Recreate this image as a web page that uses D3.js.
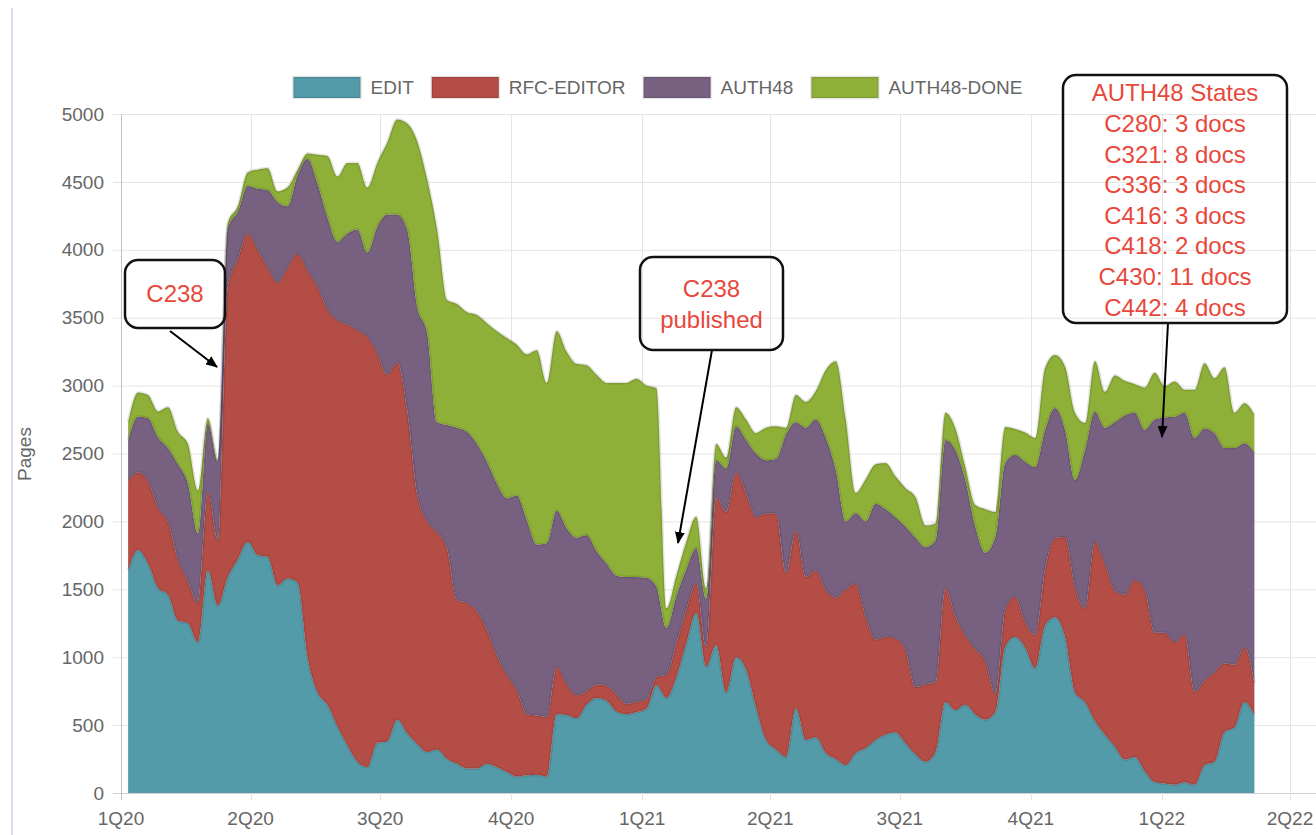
<!DOCTYPE html>
<html>
<head>
<meta charset="utf-8">
<script src="https://cdn.jsdelivr.net/npm/d3@7"></script>
<style>
  body { margin: 0; background: #fff; }
  svg { display: block; font-family: "Liberation Sans", Arial, Helvetica, sans-serif; }
</style>
</head>
<body>
<svg id="chart" width="1316" height="835"></svg>
<script>
// pages in each state, one value per week (Mondays from 6 Jan 2020)
const seriesNames = ['EDIT', 'RFC-EDITOR', 'AUTH48', 'AUTH48-DONE']
const seriesColors = ['#549baa', '#b44d46', '#786180', '#8eb038']

const edit = [1640,1790,1690,1510,1460,1270,1250,1110,1640,1380,
  1590,1720,1850,1750,1740,1530,1580,1550,1000,740,
  650,490,350,230,190,370,380,540,440,360,
  300,320,250,215,180,180,215,190,155,120,
  130,135,120,580,575,550,650,700,680,600,
  580,595,620,795,700,850,1100,1325,930,1090,
  740,1000,910,630,390,320,265,625,390,410,
  295,250,205,295,330,390,430,445,365,285,
  230,300,670,610,650,580,540,595,1075,1150,
  1070,920,1235,1295,1150,740,670,530,430,340,
  245,265,160,80,70,60,80,60,205,230,
  450,485,670,575]

const rfcEditor = [660,570,610,590,540,450,310,290,580,480,
  2140,2210,2270,2250,2130,2230,2290,2420,2850,2990,
  2910,2990,3100,3180,3170,2870,2700,2630,2380,1840,
  1700,1600,1550,1205,1220,1160,985,820,715,640,
  450,435,440,350,225,170,100,100,110,125,
  75,75,70,60,170,250,250,220,150,1090,
  1330,1360,1300,1400,1670,1740,1355,1310,1200,1230,
  1200,1190,1295,1245,970,740,720,695,685,495,
  570,515,840,690,510,480,430,140,275,295,
  185,245,415,585,735,775,690,1320,1260,1150,
  1215,1305,1335,1100,1110,1050,1090,685,625,660,
  505,460,405,235]

const auth48 = [300,410,460,520,540,700,720,510,500,580,
  430,350,350,450,570,590,450,580,820,760,
  680,580,670,740,620,930,1180,1090,1330,1380,
  1390,810,910,1270,1260,1230,1240,1270,1300,1430,
  1430,1260,1280,1150,1150,1160,1150,980,900,875,
  935,920,895,665,345,350,300,260,350,270,
  320,340,390,470,390,400,1020,795,1100,1110,
  1120,940,500,520,700,1000,940,890,910,1100,
  1010,1045,1090,1225,1145,900,800,1150,1080,1045,
  1185,1235,1025,955,790,790,1165,960,1000,1240,
  1320,1230,1180,1570,1585,1660,1630,1870,1855,1760,
  1585,1595,1500,1695]

const auth48Done = [130,180,170,190,300,240,290,320,40,15,
  40,40,100,140,160,80,140,40,40,210,
  450,480,520,490,480,470,530,700,780,1220,
  1130,1420,920,910,880,950,1020,1120,1180,1110,
  1220,1430,1180,1320,1300,1280,1250,1300,1330,1420,
  1430,1460,1415,1460,145,150,200,230,80,120,
  80,140,150,150,240,240,50,200,190,210,
  500,800,750,150,310,290,340,300,285,300,
  160,125,200,160,95,160,320,185,265,190,
  215,215,455,390,465,495,200,370,265,345,
  255,210,310,345,230,260,170,355,480,405,
  595,260,295,280]

const quarterLabels = ['1Q20', '2Q20', '3Q20', '4Q20', '1Q21', '2Q21', '3Q21', '4Q21', '1Q22', '2Q22']
const yTicks = [0, 500, 1000, 1500, 2000, 2500, 3000, 3500, 4000, 4500, 5000]

const auth48States = ['AUTH48 States', 'C280: 3 docs', 'C321: 8 docs', 'C336: 3 docs',
  'C416: 3 docs', 'C418: 2 docs', 'C430: 11 docs', 'C442: 4 docs']

const svg = d3.select('#chart')
const W = 1316, H = 835
const plot = { left: 121, top: 114, bottom: 793, right: W }

const weeks = d3.utcMonday.range(new Date(Date.UTC(2020, 0, 6)), new Date(Date.UTC(2022, 2, 8)))
const rows = edit.map(function(v, i){
  return { date: weeks[i], 'EDIT': v, 'RFC-EDITOR': rfcEditor[i], 'AUTH48': auth48[i], 'AUTH48-DONE': auth48Done[i] }
})
const quarters = d3.utcMonth.every(3).range(new Date(Date.UTC(2020, 0, 1)), new Date(Date.UTC(2022, 3, 2)))

const x = d3.scaleUtc()
  .domain([new Date(Date.UTC(2020, 0, 1)), new Date(Date.UTC(2022, 3, 1))])
  .range([121, 1290])
const y = d3.scaleLinear().domain([0, 5000]).range([plot.bottom, plot.top])

// left page border
svg.append('line')
  .attr('x1', 12).attr('x2', 12).attr('y1', 8).attr('y2', H)
  .attr('stroke', '#e4d6ee').attr('stroke-width', 2)

// grid
const grid = svg.append('g')
grid.selectAll('.hg').data(yTicks).enter().append('line')
  .attr('x1', plot.left - 8).attr('x2', plot.right)
  .attr('y1', d => y(d) + 0.5).attr('y2', d => y(d) + 0.5)
  .attr('stroke', d => d === 0 ? '#cfcfcf' : '#e4e4e4').attr('stroke-width', 1)
grid.selectAll('.vg').data(quarters).enter().append('line')
  .attr('x1', d => Math.round(x(d)) + 0.5).attr('x2', d => Math.round(x(d)) + 0.5)
  .attr('y1', plot.top).attr('y2', plot.bottom + 7)
  .attr('stroke', (d, i) => i === 0 ? '#c4c4c4' : '#e4e4e4').attr('stroke-width', 1)

// stacked areas
const stack = d3.stack().keys(seriesNames)
const layers = stack(rows)
const area = d3.area()
  .x(d => x(d.data.date))
  .y0(d => y(d[0]))
  .y1(d => y(d[1]))
  .curve(d3.curveMonotoneX)
const topLine = d3.line()
  .x(d => x(d.data.date))
  .y(d => y(d[1]))
  .curve(d3.curveMonotoneX)

svg.append('g').selectAll('path').data(layers).enter().append('path')
  .attr('d', area)
  .attr('fill', (d, i) => seriesColors[i])
svg.append('g').selectAll('path').data(layers).enter().append('path')
  .attr('d', topLine)
  .attr('fill', 'none')
  .attr('stroke', 'rgba(0,0,0,0.1)')
  .attr('stroke-width', 3)

// axis labels
svg.append('g').selectAll('text').data(yTicks).enter().append('text')
  .attr('x', 104).attr('y', d => y(d))
  .attr('dy', '0.35em')
  .attr('text-anchor', 'end')
  .attr('font-size', 19).attr('fill', '#666')
  .text(d => d)

svg.append('g').selectAll('text').data(quarters).enter().append('text')
  .attr('x', d => x(d)).attr('y', 818)
  .attr('dy', '0.35em')
  .attr('text-anchor', 'middle')
  .attr('font-size', 19).attr('fill', '#666')
  .text((d, i) => quarterLabels[i])

svg.append('text')
  .attr('transform', 'translate(24,454) rotate(-90)')
  .attr('text-anchor', 'middle')
  .attr('dy', '0.35em')
  .attr('font-size', 19).attr('fill', '#666')
  .text('Pages')

// legend, centred over the whole canvas like the original
const legend = svg.append('g')
const boxW = 67, boxH = 21, legY = 77
let items = seriesNames.map(function(name, i){
  const g = legend.append('g')
  g.append('rect')
    .attr('width', boxW).attr('height', boxH)
    .attr('fill', seriesColors[i])
    .attr('stroke', 'rgba(0,0,0,0.1)').attr('stroke-width', 2.5)
  const t = g.append('text')
    .attr('x', boxW + 10).attr('y', boxH / 2).attr('dy', '0.35em')
    .attr('font-size', 19).attr('fill', '#666')
    .text(name)
  return { g: g, w: boxW + 10 + t.node().getComputedTextLength() }
})
const gap = 18
const total = d3.sum(items, d => d.w) + gap * (items.length - 1)
let lx = W / 2 - total / 2
items.forEach(function(it){
  it.g.attr('transform', `translate(${lx},${legY})`)
  lx += it.w + gap
})

// annotations
svg.append('defs').append('marker')
  .attr('id', 'arrow')
  .attr('viewBox', '0 0 12 10')
  .attr('refX', 11).attr('refY', 5)
  .attr('markerWidth', 12).attr('markerHeight', 10)
  .attr('markerUnits', 'userSpaceOnUse')
  .attr('orient', 'auto')
  .append('path').attr('d', 'M0,0 L12,5 L0,10 z').attr('fill', '#000')

const red = '#e8483b'
function callout(bx, by, bw, bh, lines, lineGap, firstY, ax1, ay1, ax2, ay2){
  svg.append('line')
    .attr('x1', ax1).attr('y1', ay1).attr('x2', ax2).attr('y2', ay2)
    .attr('stroke', '#000').attr('stroke-width', 2)
    .attr('marker-end', 'url(#arrow)')
  svg.append('rect')
    .attr('x', bx).attr('y', by).attr('width', bw).attr('height', bh)
    .attr('rx', 13).attr('ry', 13)
    .attr('fill', 'none').attr('stroke', '#111').attr('stroke-width', 2.5)
  svg.append('g').selectAll('text').data(lines).enter().append('text')
    .attr('x', bx + bw / 2)
    .attr('y', (d, i) => firstY + i * lineGap)
    .attr('dy', '0.35em')
    .attr('text-anchor', 'middle')
    .attr('font-size', 24).attr('fill', red)
    .text(d => d)
}

callout(125, 260, 100, 68, ['C238'], 0, 294, 170, 331, 217, 367)
callout(640, 257, 143, 93, ['C238', 'published'], 31, 289, 712, 350, 678, 543)
callout(1063, 75, 224, 248, auth48States, 30.6, 93, 1168, 323, 1162, 437)
</script>
</body>
</html>
